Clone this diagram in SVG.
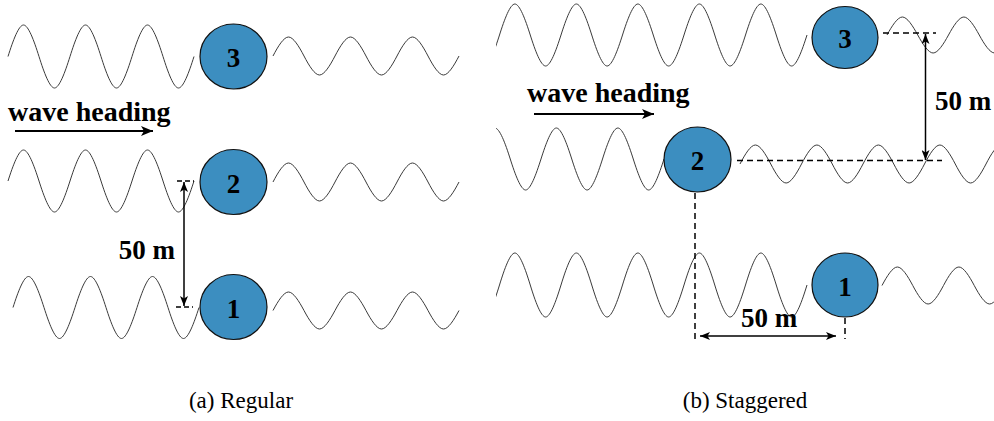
<svg xmlns="http://www.w3.org/2000/svg" xmlns:xlink="http://www.w3.org/1999/xlink" width="994" height="421" viewBox="0 0 994 421">
<style>
.wave{fill:none;stroke:#3a3a3a;stroke-width:1}
.buoy{fill:#3c8ec0;stroke:#111;stroke-width:1.2}
.num{font-family:"Liberation Serif",serif;font-weight:bold;font-size:27px;text-anchor:middle;fill:#000}
.lbl{font-family:"Liberation Serif",serif;font-weight:bold;font-size:27px;fill:#000}
.cap{font-family:"Liberation Serif",serif;font-size:23px;text-anchor:middle;fill:#000}
.dash{fill:none;stroke:#000;stroke-width:1.5;stroke-dasharray:6 4}
.dim{fill:none;stroke:#000;stroke-width:1.5}
.head{fill:none;stroke:#000;stroke-width:2}
</style>
<defs>
<marker id="ah" viewBox="0 0 10 8" refX="10" refY="4" markerWidth="10" markerHeight="8" markerUnits="userSpaceOnUse" orient="auto-start-reverse">
<path d="M0,0 L10,4 L0,8 L2.5,4 z" fill="#000"/>
</marker>
<marker id="ah2" viewBox="0 0 12 10" refX="12" refY="5" markerWidth="13" markerHeight="10" markerUnits="userSpaceOnUse" orient="auto">
<path d="M0,0 L12,5 L0,10 L3,5 z" fill="#000"/>
</marker>
<path id="w2" class="wave" vector-effect="non-scaling-stroke" d="M0,0 c8.15,-51.23 17.36,-100 25,-100 s16.85,48.77 25,100 s17.36,100 25,100 s16.85,-48.77 25,-100 s17.36,-100 25,-100 s16.85,48.77 25,100 s17.36,100 25,100 s16.85,-48.77 25,-100"/>
<path id="w3" class="wave" vector-effect="non-scaling-stroke" d="M0,0 c8.15,-51.23 17.36,-100 25,-100 s16.85,48.77 25,100 s17.36,100 25,100 s16.85,-48.77 25,-100 s17.36,-100 25,-100 s16.85,48.77 25,100 s17.36,100 25,100 s16.85,-48.77 25,-100 s17.36,-100 25,-100 s16.85,48.77 25,100 s17.36,100 25,100 s16.85,-48.77 25,-100"/>
<path id="w6" class="wave" vector-effect="non-scaling-stroke" d="M0,0 c8.15,-51.23 17.36,-100 25,-100 s16.85,48.77 25,100 s17.36,100 25,100 s16.85,-48.77 25,-100 s17.36,-100 25,-100 s16.85,48.77 25,100 s17.36,100 25,100 s16.85,-48.77 25,-100 s17.36,-100 25,-100 s16.85,48.77 25,100 s17.36,100 25,100 s16.85,-48.77 25,-100 s17.36,-100 25,-100 s16.85,48.77 25,100 s17.36,100 25,100 s16.85,-48.77 25,-100 s17.36,-100 25,-100 s16.85,48.77 25,100 s17.36,100 25,100 s16.85,-48.77 25,-100 s17.36,-100 25,-100 s16.85,48.77 25,100 s17.36,100 25,100 s16.85,-48.77 25,-100"/>
<clipPath id="clipB" clipPathUnits="userSpaceOnUse"><rect x="496" y="0" width="498" height="421"/></clipPath>
</defs>

<g id="waves-a">
<use xlink:href="#w3" transform="translate(8,56.5) scale(0.62,0.315)"/>
<use xlink:href="#w3" transform="translate(273,56) scale(0.62,0.19)"/>
<use xlink:href="#w3" transform="translate(8,181) scale(0.62,0.31)"/>
<use xlink:href="#w3" transform="translate(273,182) scale(0.62,0.19)"/>
<use xlink:href="#w3" transform="translate(13,307.5) scale(0.62,0.31)"/>
<use xlink:href="#w3" transform="translate(273,310.5) scale(0.62,0.185)"/>
</g>

<g id="waves-b">
<g clip-path="url(#clipB)">
<use xlink:href="#w6" transform="translate(438,35) scale(0.615,0.31)"/>
<use xlink:href="#w3" transform="translate(479.5,159) scale(0.615,0.31)"/>
<use xlink:href="#w6" transform="translate(438,285) scale(0.615,0.32)"/>
</g>
<use xlink:href="#w2" transform="translate(887,35) scale(0.615,0.18)"/>
<use xlink:href="#w6" transform="translate(740,164) scale(0.615,0.19)"/>
<use xlink:href="#w2" transform="translate(882,285.5) scale(0.615,0.185)"/>
</g>

<g id="connectors">
<line class="head" x1="15" y1="131" x2="153" y2="131" marker-end="url(#ah2)"/>
<line class="head" x1="534" y1="114" x2="654" y2="114" marker-end="url(#ah2)"/>
<line class="dash" x1="177" y1="181" x2="194" y2="181" style="stroke-dasharray:5 3"/>
<line class="dash" x1="176" y1="307" x2="193" y2="307" style="stroke-dasharray:5 3"/>
<line class="dim" x1="184" y1="182" x2="184" y2="306" marker-start="url(#ah)" marker-end="url(#ah)"/>
<line class="dash" x1="883" y1="33" x2="936" y2="33"/>
<line class="dash" x1="737" y1="160.5" x2="942" y2="160.5"/>
<line class="dim" x1="925.5" y1="34" x2="925.5" y2="160" marker-start="url(#ah)" marker-end="url(#ah)"/>
<line class="dash" x1="695" y1="193" x2="695" y2="339"/>
<line class="dash" x1="845" y1="318" x2="845" y2="339"/>
<line class="dim" x1="700" y1="336" x2="836" y2="336" marker-start="url(#ah)" marker-end="url(#ah)"/>
</g>

<g id="node-a3"><ellipse class="buoy" cx="233.5" cy="56.5" rx="33.5" ry="32.5"/><text class="num" x="233.5" y="67">3</text></g>
<g id="node-a2"><ellipse class="buoy" cx="233.5" cy="182" rx="33.5" ry="32.5"/><text class="num" x="233.5" y="192.5">2</text></g>
<g id="node-a1"><ellipse class="buoy" cx="233.5" cy="307" rx="33.5" ry="32.5"/><text class="num" x="233.5" y="317.5">1</text></g>
<g id="node-b3"><ellipse class="buoy" cx="845" cy="37.5" rx="33" ry="31"/><text class="num" x="845" y="48">3</text></g>
<g id="node-b2"><ellipse class="buoy" cx="697.5" cy="159.5" rx="33.5" ry="32.5"/><text class="num" x="697.5" y="170">2</text></g>
<g id="node-b1"><ellipse class="buoy" cx="845" cy="285" rx="33" ry="32"/><text class="num" x="845" y="295.5">1</text></g>

<g id="labels">
<text class="lbl" x="8" y="121" style="font-size:28px">wave heading</text>
<text class="lbl" x="527" y="102" style="font-size:28px">wave heading</text>
<text class="lbl" x="175" y="259" text-anchor="end">50 m</text>
<text class="lbl" x="935" y="110">50 m</text>
<text class="lbl" x="741" y="327">50 m</text>
<text class="cap" x="241" y="408">(a) Regular</text>
<text class="cap" x="745" y="408">(b) Staggered</text>
</g>
</svg>
